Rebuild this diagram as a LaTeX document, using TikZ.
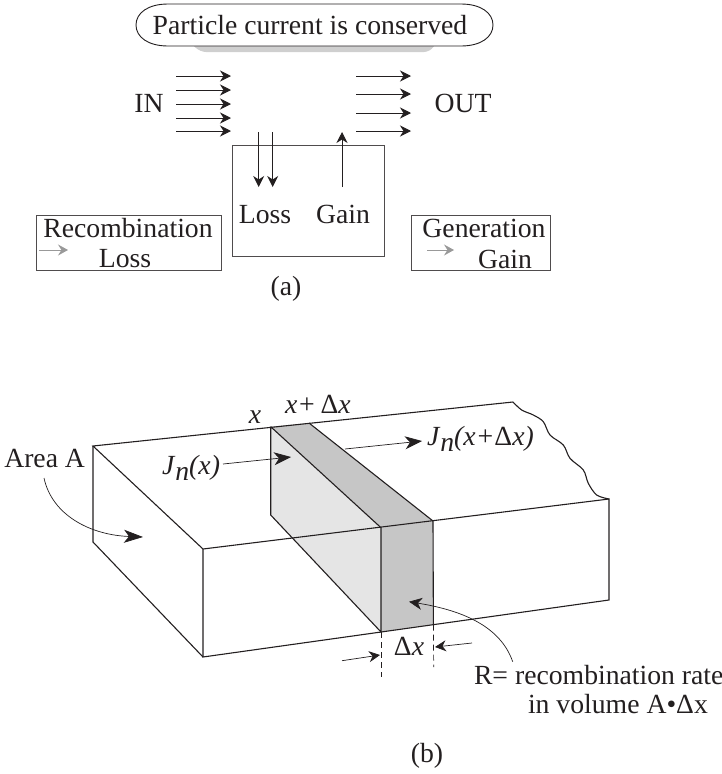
\documentclass[tikz,border=0pt]{standalone}
\usepackage{fontspec}
\setmainfont{Liberation Serif}
\usetikzlibrary{arrows.meta,calc}
\definecolor{ink}{HTML}{231F20}
\definecolor{lightface}{HTML}{E5E5E5}
\definecolor{darkface}{HTML}{C6C6C6}
\tikzset{
  txt/.style={inner sep=0pt,outer sep=0pt,anchor=base,text=ink,font=\fontsize{27.7}{30}\selectfont},
  ln/.style={draw=ink,line width=1.1pt},
  arr/.style={draw=ink,line width=0.9pt,-{Stealth[length=11pt,width=11pt,inset=3.5pt]}},
  grayarr/.style={draw=gray!80,line width=0.8pt,-{Stealth[length=10pt,width=11pt,inset=3.5pt]}},
  dim/.style={draw=ink,line width=0.7pt,dash pattern=on 6pt off 4pt},
  boxs/.style={draw=ink!80,line width=1pt}
}
\newcommand{\Jn}[1]{\textit{J}\raisebox{-6pt}{\textit{n}}\textit{#1}}
\begin{document}
\begin{tikzpicture}[x=1pt,y=-1pt]
\useasboundingbox (0,0) rectangle (722,774);
% (a)
\fill[gray!38,rounded corners=6pt] (188,40) -- (438,40) -- (430,52) -- (200,52) -- cycle;
\node[minimum width=357pt,minimum height=42pt,inner sep=0pt,outer sep=0pt,anchor=center] (pill) at (314.5,25) {};
\draw[draw=ink,line width=0.9pt,fill=white]
  ($(pill.north west)+(32,0)$) -- ($(pill.north east)+(-32,0)$)
  .. controls ($(pill.north east)+(-12,0)$) and ($(pill.east)+(0,-12)$) .. (pill.east)
  .. controls ($(pill.east)+(0,12)$) and ($(pill.south east)+(-12,0)$) .. ($(pill.south east)+(-32,0)$)
  -- ($(pill.south west)+(32,0)$)
  .. controls ($(pill.south west)+(12,0)$) and ($(pill.west)+(0,12)$) .. (pill.west)
  .. controls ($(pill.west)+(0,-12)$) and ($(pill.north west)+(12,0)$) .. cycle;
\node[txt] (ptext) at (310,34) {Particle current is conserved};

\foreach \n/\y in {1/76,2/90,3/104,4/118,5/131}{
  \coordinate (ia\n) at (176,\y); \coordinate (ib\n) at (231,\y);
  \draw[arr] (ia\n) -- (ib\n);
}
\foreach \n/\y in {1/76,2/94,3/113,4/131}{
  \coordinate (oa\n) at (356,\y); \coordinate (ob\n) at (411,\y);
  \draw[arr] (oa\n) -- (ob\n);
}
\node[txt] (in) at (149,112) {IN};
\node[txt] (out) at (463,112) {OUT};

\node[boxs,minimum width=152pt,minimum height=111pt,inner sep=0pt,anchor=north west] (mid) at (231.5,145) {};
\coordinate (d1a) at (258.7,132); \coordinate (d1b) at (258.7,187);
\coordinate (d2a) at (272.7,132); \coordinate (d2b) at (272.7,187);
\coordinate (ua) at (342,187); \coordinate (ub) at (342,132);
\draw[arr] (d1a) -- (d1b);
\draw[arr] (d2a) -- (d2b);
\draw[arr] (ua) -- (ub);
\node[txt] (loss) at (265,223) {Loss};
\node[txt] (gain) at (343,223) {Gain};

\node[boxs,minimum width=184.5pt,minimum height=55pt,inner sep=0pt,anchor=north west] (lbox) at (36,215) {};
\node[txt] (rec) at (128,237) {Recombination};
\node[txt] (rloss) at (125,267) {Loss};
\coordinate (la) at (39,250); \coordinate (lb) at (68,250);
\draw[grayarr] (la) -- (lb);

\node[boxs,minimum width=138.7pt,minimum height=55pt,inner sep=0pt,anchor=north west] (rbox) at (411,215) {};
\node[txt] (gen) at (484,237.5) {Generation};
\node[txt] (rgain) at (505,268) {Gain};
\coordinate (ra) at (427,250); \coordinate (rb) at (454,250);
\draw[grayarr] (ra) -- (rb);

\node[txt] (capa) at (286,295) {(a)};

% (b) block
\coordinate (BL) at (93,446);
\coordinate (FL) at (203,549);
\coordinate (FLb) at (203,657);
\coordinate (BLb) at (93,542);
\coordinate (TR) at (513,402);
\coordinate (FR) at (609,499);
\coordinate (FRb) at (609,600);
\coordinate (S1) at (270.7,426.7);
\coordinate (S1b) at (270.7,515);
\coordinate (S2) at (309,423);
\coordinate (F1) at (381,527.7);
\coordinate (F2) at (433,521);
\coordinate (F1b) at (381,632);
\coordinate (F2b) at (433.4,624.5);

\fill[lightface] (S1) -- (F1) -- (F1b) -- (S1b) -- cycle;
\fill[darkface] (S1) -- (S2) -- (F2) -- (F1) -- cycle;
\fill[darkface] (F1) -- (F2) -- (F2b) -- (F1b) -- cycle;

\draw[ln] (TR) -- (BL) -- (FL) -- (FR) -- (FRb) -- (FLb) -- (FL);
\draw[ln] (BL) -- (BLb) -- (FLb);
\draw[ln] (S1) -- (F1) -- (F1b) -- (S1b) -- (S1);
\draw[ln] (S2) -- (F2) -- (F2b);
\draw[ln] plot[smooth,tension=0.55] coordinates {(TR) (521.7,410) (533.3,415) (543.3,421.7) (550,435) (563.3,445) (570,458.3) (583.3,470) (588.3,483.3) (596.7,495) (FR)};

% dimension marks
\coordinate (e1) at (381,677);
\coordinate (e2) at (433.7,667);
\draw[dim] (F1b) -- (e1);
\draw[dim] (F2b) -- (e2);
\coordinate (da) at (342,660.7); \coordinate (db) at (380,655);
\coordinate (dc) at (472,643); \coordinate (dd) at (435,647);
\draw[arr,line width=0.7pt] (da) -- (db);
\draw[arr,line width=0.7pt] (dc) -- (dd);
\node[txt] (dx) at (409,655) {Δ\textit{x}};

% labels
\node[txt,anchor=base east] (area) at (85,467) {Area A};
\coordinate (a1) at (44,478); \coordinate (a2) at (143,537);
\draw[arr,line width=0.7pt,-{Stealth[length=19pt,width=13pt,inset=5pt]}] (a1) .. controls (52,515) and (90,535) .. (a2);

\node[txt,anchor=base west] (jx) at (162,474) {\Jn{(x)}};
\coordinate (j1) at (223,464); \coordinate (j2) at (291,457);
\draw[arr,line width=0.7pt,-{Stealth[length=17pt,width=13pt,inset=5pt]}] (j1) -- (j2);

\node[txt,anchor=base west] (jxd) at (427,445) {\Jn{(x+}Δ\textit{x)}};
\coordinate (k1) at (345,449); \coordinate (k2) at (422,441);
\draw[arr,line width=0.7pt,-{Stealth[length=17pt,width=13pt,inset=5pt]}] (k1) -- (k2);

\node[txt] (xl) at (255,423) {\textit{x}};
\node[txt,anchor=base west] (xdl) at (285,413) {\textit{x+}\,Δ\textit{x}};

\node[txt,anchor=base west] (rr) at (474,684) {R= recombination rate};
\node[txt,anchor=base west] (vol) at (528,713) {in volume A•Δx};
\coordinate (r1) at (512.7,661.7); \coordinate (r2) at (409,601.7);
\draw[arr,line width=0.7pt,-{Stealth[length=13pt,width=12pt,inset=4pt]}] (r1) .. controls (500,625) and (460,610) .. (r2);

\node[txt] (capb) at (427,762) {(b)};
\end{tikzpicture}
\end{document}
